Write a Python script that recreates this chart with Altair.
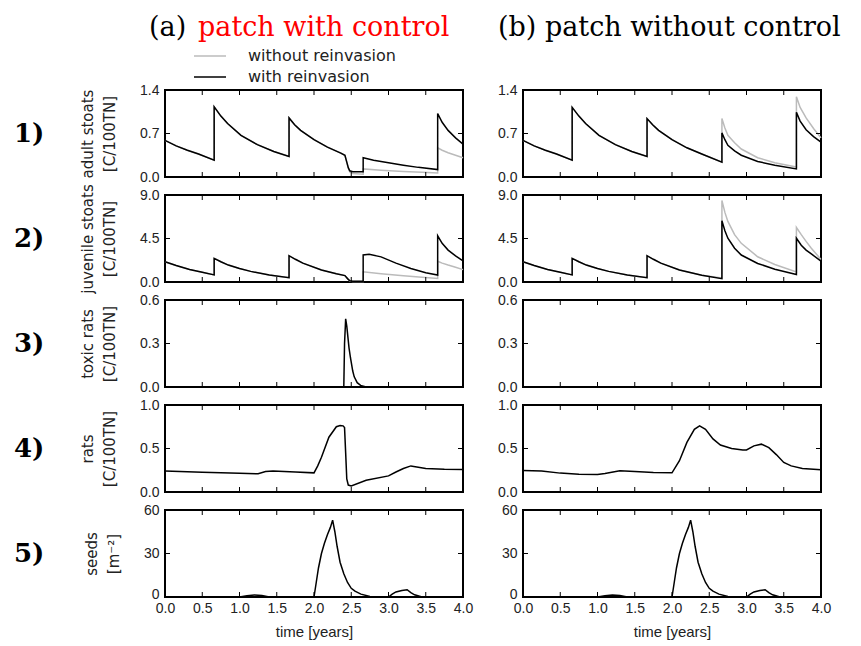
import altair as alt
import pandas as pd

W, H = 298, 87
GRAY = "#bbbbbb"

XTICKS = [0.0, 0.5, 1.0, 1.5, 2.0, 2.5, 3.0, 3.5, 4.0]
ROW_LABELS = ["1)", "2)", "3)", "4)", "5)"]
Y_TITLES = [["adult stoats", "[C/100TN]"], ["juvenile stoats", "[C/100TN]"],
            ["toxic rats", "[C/100TN]"], ["rats", "[C/100TN]"], ["seeds", "[m\u207b\u00b2]"]]
Y_MAX = [1.4, 9.0, 0.6, 1.0, 60]
Y_TICKS = [[0.0, 0.7, 1.4], [0.0, 4.5, 9.0], [0.0, 0.3, 0.6], [0.0, 0.5, 1.0], [0, 30, 60]]
Y_FMT = [".1f", ".1f", ".1f", ".1f", "d"]

# ---- row 1, (a) adult stoats, patch with control ----
a1_t_shared = [0.0, 0.15, 0.3, 0.45, 0.66, 0.66, 0.75, 0.84, 1.02, 1.24, 1.46, 1.665,
               1.665, 1.74, 1.82, 2.0, 2.18, 2.36, 2.415, 2.44, 2.46]
a1_v_shared = [0.59, 0.50, 0.43, 0.37, 0.27, 1.13, 0.98, 0.86, 0.67, 0.52, 0.41, 0.33,
               0.95, 0.84, 0.75, 0.60, 0.48, 0.385, 0.35, 0.24, 0.15]
a1_black_t = [2.48, 2.52, 2.66, 2.66, 2.8, 3.0, 3.2, 3.4, 3.66, 3.66, 3.72, 3.8, 3.9, 4.0]
a1_black_v = [0.10, 0.085, 0.085, 0.31, 0.27, 0.23, 0.19, 0.155, 0.12, 1.02, 0.88, 0.75, 0.63, 0.53]
a1_gray_t = [2.48, 2.52, 2.66, 2.66, 2.9, 3.2, 3.45, 3.66, 3.66, 3.72, 3.8, 3.9, 4.0]
a1_gray_v = [0.08, 0.055, 0.045, 0.13, 0.11, 0.09, 0.075, 0.065, 0.47, 0.43, 0.39, 0.35, 0.31]

# ---- row 1, (b) adult stoats, patch without control ----
b1_t_shared = [0.0, 0.15, 0.3, 0.45, 0.66, 0.66, 0.75, 0.84, 1.02, 1.24, 1.46, 1.665,
               1.665, 1.74, 1.82, 2.0, 2.2, 2.4, 2.67]
b1_v_shared = [0.59, 0.50, 0.43, 0.37, 0.27, 1.12, 0.98, 0.86, 0.67, 0.52, 0.41, 0.33,
               0.94, 0.84, 0.75, 0.60, 0.47, 0.37, 0.24]
b1_t_tail = [2.67, 2.71, 2.75, 2.84, 2.93, 3.15, 3.38, 3.67, 3.67, 3.72, 3.8, 3.9, 4.0]
b1_black_v = [0.71, 0.60, 0.51, 0.42, 0.35, 0.25, 0.19, 0.13, 1.04, 0.90, 0.76, 0.65, 0.56]
b1_gray_v = [0.94, 0.79, 0.67, 0.55, 0.45, 0.31, 0.23, 0.16, 1.29, 1.12, 0.95, 0.78, 0.63]

# ---- row 2, (a) juvenile stoats, patch with control ----
a2_t_shared = [0.0, 0.15, 0.33, 0.5, 0.66, 0.66, 0.75, 0.85, 1.0, 1.15, 1.4, 1.665,
               1.665, 1.75, 1.85, 2.1, 2.3, 2.415, 2.45]
a2_v_shared = [2.1, 1.7, 1.3, 1.0, 0.73, 2.44, 2.1, 1.75, 1.4, 1.1, 0.72, 0.45,
               2.72, 2.35, 1.95, 1.25, 0.85, 0.66, 0.35]
a2_black_t = [2.48, 2.52, 2.66, 2.66, 2.74, 2.9, 3.1, 3.3, 3.5, 3.66, 3.66, 3.72, 3.8, 3.9, 4.0]
a2_black_v = [0.12, 0.08, 0.08, 2.8, 2.86, 2.6, 1.95, 1.4, 0.95, 0.72, 4.78, 4.0, 3.3, 2.7, 2.18]
a2_gray_t = [2.48, 2.52, 2.66, 2.66, 2.9, 3.2, 3.45, 3.66, 3.66, 3.72, 3.8, 3.9, 4.0]
a2_gray_v = [0.10, 0.06, 0.05, 1.05, 0.85, 0.65, 0.48, 0.36, 2.15, 1.95, 1.75, 1.52, 1.28]

# ---- row 2, (b) juvenile stoats, patch without control ----
b2_t_shared = [0.0, 0.15, 0.33, 0.5, 0.66, 0.66, 0.75, 0.85, 1.0, 1.15, 1.4, 1.665,
               1.665, 1.75, 1.85, 2.1, 2.4]
b2_v_shared = [2.1, 1.7, 1.3, 1.0, 0.73, 2.44, 2.1, 1.75, 1.4, 1.1, 0.72, 0.45,
               2.72, 2.35, 1.95, 1.25, 0.70]
b2_t_tail = [2.67, 2.67, 2.71, 2.75, 2.84, 2.93, 3.15, 3.38, 3.67, 3.67, 3.735, 3.8, 3.87, 4.0]
b2_black_v = [0.35, 6.34, 5.3, 4.53, 3.5, 2.79, 1.92, 1.32, 0.77, 4.53, 3.8, 3.3, 2.9, 2.16]
b2_gray_v = [0.42, 8.43, 7.2, 6.27, 4.9, 4.0, 2.61, 1.81, 1.05, 5.64, 4.9, 4.2, 3.5, 2.33]

# ---- row 3, (a) toxic rats ----
a3_t = [0.0, 2.40, 2.41, 2.425, 2.44, 2.47, 2.49, 2.52, 2.54, 2.58, 2.625, 2.7, 4.0]
a3_v = [0.0, 0.0, 0.30, 0.47, 0.42, 0.27, 0.20, 0.11, 0.07, 0.03, 0.011, 0.0, 0.0]

# ---- row 4, rats ----
a4_t = [0.0, 0.5, 1.0, 1.25, 1.35, 1.45, 1.75, 2.0, 2.05, 2.1, 2.2, 2.3, 2.35, 2.39, 2.41,
        2.425, 2.44, 2.46, 2.5, 2.7, 3.0, 3.1, 3.2, 3.3, 3.4, 3.5, 3.75, 4.0]
a4_v = [0.24, 0.228, 0.215, 0.21, 0.235, 0.24, 0.23, 0.22, 0.30, 0.40, 0.63, 0.75, 0.765, 0.76, 0.74,
        0.45, 0.15, 0.08, 0.07, 0.135, 0.185, 0.23, 0.27, 0.30, 0.285, 0.27, 0.262, 0.26]
b4_t = [0.0, 0.25, 0.5, 0.75, 1.0, 1.1, 1.3, 1.5, 1.75, 2.0, 2.1, 2.2, 2.3, 2.37, 2.45, 2.55,
        2.65, 2.8, 2.95, 3.0, 3.1, 3.2, 3.3, 3.4, 3.5, 3.6, 3.75, 4.0]
b4_v = [0.247, 0.24, 0.217, 0.205, 0.2, 0.213, 0.243, 0.236, 0.224, 0.22, 0.36, 0.57, 0.72, 0.76,
        0.72, 0.61, 0.54, 0.50, 0.483, 0.483, 0.53, 0.55, 0.51, 0.43, 0.34, 0.30, 0.27, 0.255]

# ---- row 5, seeds ----
s5_t = [0.0, 1.0, 1.1, 1.2, 1.3, 1.4, 2.0, 2.03, 2.06, 2.1, 2.14, 2.18, 2.22, 2.25, 2.28, 2.31,
        2.35, 2.4, 2.45, 2.5, 2.55, 2.63, 2.75, 3.0, 3.05, 3.1, 3.18, 3.25, 3.3, 3.35, 3.45, 4.0]
s5_v = [0, 0, 0.9, 1.4, 1.0, 0, 0, 10, 20, 30, 37, 43, 48, 53, 45, 35,
        24, 16, 10, 6, 4, 2, 0.3, 0, 2, 3.5, 4.5, 5, 3, 1.5, 0, 0]


def df(t, v):
    return pd.DataFrame({"t": t, "v": v, "i": list(range(len(t)))})


SERIES = {
    (0, 0): (df(a1_t_shared + a1_black_t, a1_v_shared + a1_black_v),
             df(a1_t_shared + a1_gray_t, a1_v_shared + a1_gray_v)),
    (0, 1): (df(b1_t_shared + b1_t_tail, b1_v_shared + b1_black_v),
             df(b1_t_shared + b1_t_tail, b1_v_shared + b1_gray_v)),
    (1, 0): (df(a2_t_shared + a2_black_t, a2_v_shared + a2_black_v),
             df(a2_t_shared + a2_gray_t, a2_v_shared + a2_gray_v)),
    (1, 1): (df(b2_t_shared + b2_t_tail, b2_v_shared + b2_black_v),
             df(b2_t_shared + b2_t_tail, b2_v_shared + b2_gray_v)),
    (2, 0): (df(a3_t, a3_v), None),
    (2, 1): (None, None),
    (3, 0): (df(a4_t, a4_v), None),
    (3, 1): (df(b4_t, b4_v), None),
    (4, 0): (df(s5_t, s5_v), None),
    (4, 1): (df(s5_t, s5_v), None),
}

ONE = pd.DataFrame({"a": [0]})


def text(label, x, y, size, font, color="#000000", weight="normal", baseline="alphabetic"):
    return alt.Chart(ONE).mark_text(
        text=label, fontSize=size, font=font, color=color, fontWeight=weight,
        align="left", baseline=baseline
    ).encode(x=alt.value(x), y=alt.value(y))


def panel(row, col):
    black, gray = SERIES[(row, col)]
    if row == 4:
        xaxis = alt.Axis(values=XTICKS, format=".1f", ticks=False, domain=False, grid=False,
                         labelPadding=4, labelFlush=False, title="time [years]", titlePadding=9)
    else:
        xaxis = None
    xenc = alt.X("t:Q", scale=alt.Scale(domain=[0, 4], nice=False, zero=False), axis=xaxis)
    ykw = dict(values=Y_TICKS[row], format=Y_FMT[row], ticks=False, domain=False,
               grid=False, labelPadding=6, labelFlush=False)
    if row == 4:
        ykw["labelOffset"] = {"condition": {"test": "datum.value == 0", "value": -3}, "value": 0}
    if col == 0:
        yaxis = alt.Axis(title=Y_TITLES[row], titlePadding=22, titleFont="DejaVu Sans",
                         titleFontSize=15, titleLineHeight=22, **ykw)
    else:
        yaxis = alt.Axis(title=None, **ykw)
    yenc = alt.Y("v:Q", scale=alt.Scale(domain=[0, Y_MAX[row]], nice=False), axis=yaxis)

    layers = []
    if gray is not None:
        layers.append(alt.Chart(gray).mark_line(color=GRAY, strokeWidth=1.5)
                      .encode(x=xenc, y=yenc, order="i:Q"))
    if black is not None:
        layers.append(alt.Chart(black).mark_line(color="#000000", strokeWidth=1.5)
                      .encode(x=xenc, y=yenc, order="i:Q"))
    xt = pd.DataFrame({"t": XTICKS})
    yt = pd.DataFrame({"v": Y_TICKS[row]})
    layers.append(alt.Chart(xt).mark_rule(color="#000000", strokeWidth=1)
                  .encode(x=xenc, y=alt.value(0), y2=alt.value(5)))
    layers.append(alt.Chart(xt).mark_rule(color="#000000", strokeWidth=1)
                  .encode(x=xenc, y=alt.value(H - 5), y2=alt.value(H)))
    layers.append(alt.Chart(yt).mark_rule(color="#000000", strokeWidth=1)
                  .encode(y=yenc, x=alt.value(0), x2=alt.value(5)))
    layers.append(alt.Chart(yt).mark_rule(color="#000000", strokeWidth=1)
                  .encode(y=yenc, x=alt.value(W - 5), x2=alt.value(W)))

    if col == 0:
        layers.append(text(ROW_LABELS[row], -151, H / 2, 26, "DejaVu Serif",
                           weight="bold", baseline="middle"))
    if row == 0 and col == 0:
        layers.append(text("(a)", -16, -54, 27, "DejaVu Serif"))
        layers.append(text("patch with control", 33, -54, 27, "DejaVu Serif", color="#ff0000"))
        layers.append(alt.Chart(ONE).mark_rule(color=GRAY, strokeWidth=1.5)
                      .encode(x=alt.value(29), x2=alt.value(61), y=alt.value(-34)))
        layers.append(alt.Chart(ONE).mark_rule(color="#000000", strokeWidth=1.5)
                      .encode(x=alt.value(29), x2=alt.value(61), y=alt.value(-13)))
        layers.append(text("without reinvasion", 83, -34, 16, "DejaVu Sans",
                           color="#222222", baseline="middle"))
        layers.append(text("with reinvasion", 83, -13, 16, "DejaVu Sans",
                           color="#222222", baseline="middle"))
    if row == 0 and col == 1:
        layers.append(text("(b) patch without control", -25, -54, 27, "DejaVu Serif"))

    return alt.layer(*layers).properties(width=W, height=H)


panels = [panel(r, c) for r in range(5) for c in range(2)]

chart = alt.concat(
    *panels, columns=2, spacing={"row": 18, "column": 60}, bounds="flush"
).configure_view(
    stroke="#000000", strokeWidth=2
).configure_axis(
    labelFont="Liberation Sans", labelFontSize=14, labelColor="#222222",
    titleFont="Liberation Sans", titleFontSize=15, titleFontWeight="normal",
    titleColor="#222222"
).properties(background="white")

chart.save("out.html", embed_options={"renderer": "svg", "actions": False})
